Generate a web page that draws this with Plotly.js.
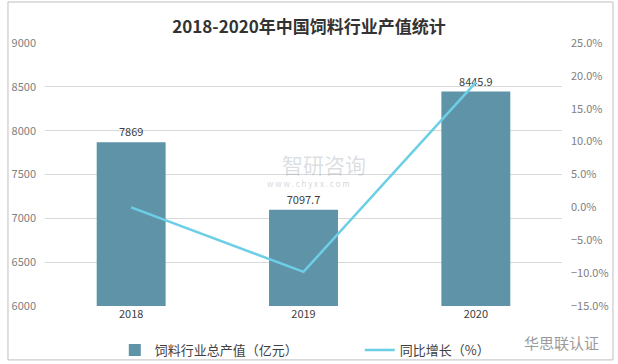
<!DOCTYPE html>
<html><head><meta charset="utf-8">
<script src="https://cdn.plot.ly/plotly-3.0.1.min.js"></script>
<style>html,body{margin:0;padding:0;background:#fff}#chart{width:618px;height:364px}</style>
</head><body><div id="chart"></div>
<script>
const years = ['2018', '2019', '2020'];
const output = [7869, 7097.7, 8445.9];
const outputLabels = ['7869', '7097.7', '8445.9'];
const growth = [0.0, -0.098, 0.19];
const barName = '饲料行业总产值（亿元）';
const lineName = '同比增长（%）';
const font = 'Noto Sans CJK SC, Noto Sans, sans-serif';

const traces = [
  {type: 'bar', x: years, y: output, name: barName, text: outputLabels,
   textposition: 'outside', cliponaxis: false, width: 0.4,
   textfont: {size: 11, color: '#404040', family: font},
   marker: {color: '#5f93a8'}, hoverinfo: 'skip'},
  {type: 'scatter', mode: 'lines', x: years, y: growth, name: lineName, yaxis: 'y2',
   line: {color: '#6dcfe5', width: 2.5}, hoverinfo: 'skip'}
];

const layout = {
  width: 618, height: 364,
  margin: {l: 45, r: 56, t: 43, b: 58, autoexpand: false},
  paper_bgcolor: '#fff', plot_bgcolor: '#fff',
  font: {family: font, color: '#404040'},
  title: {text: '<b>2018-2020年中国饲料行业产值统计</b>', font: {size: 17, color: '#333', family: font},
          x: 0.5, xanchor: 'center', y: 0.925, yanchor: 'middle', yref: 'container'},
  bargap: 0.6,
  xaxis: {type: 'category', showline: false, ticks: '', tickfont: {size: 11, color: '#404040'}, showgrid: false},
  yaxis: {range: [6000, 9000], dtick: 500, showgrid: true, gridcolor: '#d9d9d9', gridwidth: 1,
          zeroline: false, ticks: '', tickfont: {size: 11, color: '#808080'}, ticklabelstandoff: 8, fixedrange: true},
  yaxis2: {overlaying: 'y', side: 'right', range: [-0.15, 0.25], dtick: 0.05, tickformat: '.1%',
           showgrid: false, zeroline: false, ticks: '', tickfont: {size: 11, color: '#808080'}, ticklabelstandoff: 8},
  showlegend: true,
  legend: {orientation: 'h', x: 0.135, xanchor: 'left', y: -0.11, yanchor: 'top', entrywidth: 200,
           font: {size: 13, color: '#404040', family: font}, bgcolor: 'rgba(0,0,0,0)'},
  shapes: [
    {type: 'rect', xref: 'paper', yref: 'paper', x0: -0.0716, x1: 1.0986, y0: -0.205, y1: 1.156,
     line: {color: '#bfbfbf', width: 1}, layer: 'below'}
  ],
  annotations: [
    {text: '智研咨询', xref: 'paper', yref: 'paper', x: 0.54, y: 0.54, showarrow: false,
     font: {size: 21, color: 'rgba(150,160,170,0.35)', family: font}},
    {text: 'w w w . c h y x x . c o m', xref: 'paper', yref: 'paper', x: 0.51, y: 0.467, showarrow: false,
     font: {size: 8, color: 'rgba(150,160,170,0.45)', family: font}},
    {text: '华思联认证', xref: 'paper', yref: 'paper', x: 1.075, xanchor: 'right', y: -0.14, yanchor: 'middle', showarrow: false,
     font: {size: 15, color: '#9a9a9a', family: font}}
  ]
};

Plotly.newPlot('chart', traces, layout, {staticPlot: true, displayModeBar: false});
</script></body></html>
